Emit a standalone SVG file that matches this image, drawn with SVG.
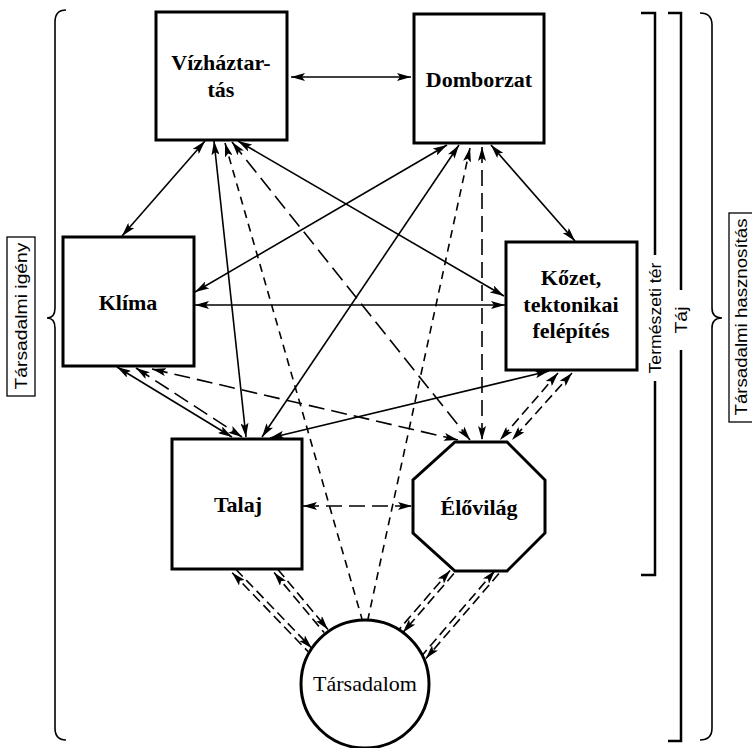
<svg xmlns="http://www.w3.org/2000/svg" width="752" height="748" viewBox="0 0 752 748">
<style>
.node{fill:#fff;stroke:#000;stroke-width:3}
.lbl{font-family:"Liberation Serif","Times New Roman",serif;font-weight:bold;font-size:22px;text-anchor:middle;fill:#000}
.lblr{font-family:"Liberation Serif","Times New Roman",serif;font-size:22px;text-anchor:middle;fill:#000}
.side{font-family:"Liberation Sans",Arial,sans-serif;font-size:17px;text-anchor:middle;fill:#000}
.s{fill:none;stroke:#000;stroke-width:1.6}
.ld{fill:none;stroke:#000;stroke-width:1.6;stroke-dasharray:16 7}
.sd{fill:none;stroke:#000;stroke-width:1.6;stroke-dasharray:8 6}
.md{fill:none;stroke:#000;stroke-width:1.6;stroke-dasharray:10 5}
.br{fill:none;stroke:#000;stroke-width:2.5}
.bc{fill:none;stroke:#000;stroke-width:1.6}
.box{fill:#fff;stroke:#000;stroke-width:1.3}
</style>
<defs>
<marker id="ah" viewBox="0 0 14 8" refX="14" refY="4" markerWidth="14" markerHeight="8" markerUnits="userSpaceOnUse" orient="auto-start-reverse">
<path d="M0,0 L14,4 L0,8 L3,4 z" fill="#000"/>
</marker>
</defs>

<g id="brackets">
<path class="bc" d="M66,10 Q55,10 55,22 L55,308 Q55,318 47,318 Q55,318 55,328 L55,728 Q55,740 66,740"/>
<rect class="box" x="7" y="237" width="28" height="159"/>
<text class="side" transform="translate(21,316) rotate(-90)" y="6" textLength="147" lengthAdjust="spacingAndGlyphs">Társadalmi igény</text>
<path class="br" d="M641,13 H655 V255 M655,381 V575 H641"/>
<text class="side" transform="translate(655,318) rotate(-90)" y="6" textLength="111" lengthAdjust="spacingAndGlyphs">Természeti tér</text>
<path class="br" d="M668,13 H681 V290 M681,350 V741 H668"/>
<text class="side" transform="translate(681,320) rotate(-90)" y="6" textLength="27" lengthAdjust="spacingAndGlyphs">Táj</text>
<path class="bc" d="M700,13 Q712,13 712,25 L712,308 Q712,318 722,318 Q712,318 712,328 L712,728 Q712,740 700,740"/>
<rect class="box" x="729" y="213" width="24" height="209"/>
<text class="side" transform="translate(741,317) rotate(-90)" y="6" textLength="197" lengthAdjust="spacingAndGlyphs">Társadalmi hasznosítás</text>
</g>

<g id="connectors">
<path class="s" d="M291,77 L411,77" marker-start="url(#ah)" marker-end="url(#ah)"/>
<path class="s" d="M205,141 L122,236" marker-start="url(#ah)" marker-end="url(#ah)"/>
<path class="s" d="M214,141 L246,437" marker-start="url(#ah)" marker-end="url(#ah)"/>
<path class="s" d="M238,141 L504,296" marker-start="url(#ah)" marker-end="url(#ah)"/>
<path class="s" d="M447,145 L195,292" marker-start="url(#ah)" marker-end="url(#ah)"/>
<path class="s" d="M459,145 L262,437" marker-start="url(#ah)" marker-end="url(#ah)"/>
<path class="s" d="M491,145 L575,241" marker-start="url(#ah)" marker-end="url(#ah)"/>
<path class="s" d="M195,305 L505,305" marker-start="url(#ah)" marker-end="url(#ah)"/>
<path class="s" d="M117,367 L232,437" marker-start="url(#ah)" marker-end="url(#ah)"/>
<path class="s" d="M549,371 L270,438" marker-start="url(#ah)" marker-end="url(#ah)"/>

<path class="ld" d="M136,368 L242,437" marker-start="url(#ah)" marker-end="url(#ah)"/>
<path class="ld" d="M152,369 L458,440" marker-start="url(#ah)" marker-end="url(#ah)"/>
<path class="ld" d="M232,142 L470,440" marker-start="url(#ah)" marker-end="url(#ah)"/>
<path class="ld" d="M482,147 L482,440" marker-start="url(#ah)" marker-end="url(#ah)"/>
<path class="ld" d="M303,506 L412,506" marker-start="url(#ah)" marker-end="url(#ah)"/>
<path class="md" d="M558,373 L500,440" marker-start="url(#ah)" marker-end="url(#ah)"/>
<path class="md" d="M572,373 L512,440" marker-start="url(#ah)" marker-end="url(#ah)"/>

<path class="sd" d="M225,143 L362,619" marker-start="url(#ah)"/>
<path class="sd" d="M470,148 L368,619" marker-start="url(#ah)"/>

<path class="md" d="M232.2,572.7 L308.2,651.7" marker-start="url(#ah)"/>
<path class="md" d="M235.8,569.3 L311.8,648.3" marker-end="url(#ah)"/>
<path class="md" d="M274.1,572.6 L324.1,632.6" marker-start="url(#ah)"/>
<path class="md" d="M277.9,569.4 L327.9,629.4" marker-end="url(#ah)"/>
<path class="md" d="M450.1,570.4 L399.1,629.4" marker-start="url(#ah)"/>
<path class="md" d="M453.9,573.6 L402.9,632.6" marker-end="url(#ah)"/>
<path class="md" d="M495.1,570.4 L422.1,655.4" marker-start="url(#ah)"/>
<path class="md" d="M498.9,573.6 L425.9,658.6" marker-end="url(#ah)"/>
</g>

<g id="vizhaztartas">
<rect class="node" x="156" y="12" width="131" height="128"/>
<text class="lbl" x="221" y="70">Vízháztar-</text>
<text class="lbl" x="221" y="97">tás</text>
</g>
<g id="domborzat">
<rect class="node" x="414" y="14" width="130" height="129"/>
<text class="lbl" x="479" y="87">Domborzat</text>
</g>
<g id="klima">
<rect class="node" x="63" y="237" width="131" height="129"/>
<text class="lbl" x="128" y="310">Klíma</text>
</g>
<g id="kozet">
<rect class="node" x="506" y="242" width="131" height="128"/>
<text class="lbl" x="571" y="285">Kőzet,</text>
<text class="lbl" x="571" y="312">tektonikai</text>
<text class="lbl" x="571" y="338">felépítés</text>
</g>
<g id="talaj">
<rect class="node" x="172" y="439" width="130" height="130"/>
<text class="lbl" x="238" y="512">Talaj</text>
</g>
<g id="elovilag">
<polygon class="node" points="455,442 507,442 545,480 545,533 507,571 455,571 413,533 413,480"/>
<text class="lbl" x="479" y="515">Élővilág</text>
</g>
<g id="tarsadalom">
<circle class="node" cx="365" cy="684" r="64"/>
<text class="lblr" x="365" y="691">Társadalom</text>
</g>
</svg>
